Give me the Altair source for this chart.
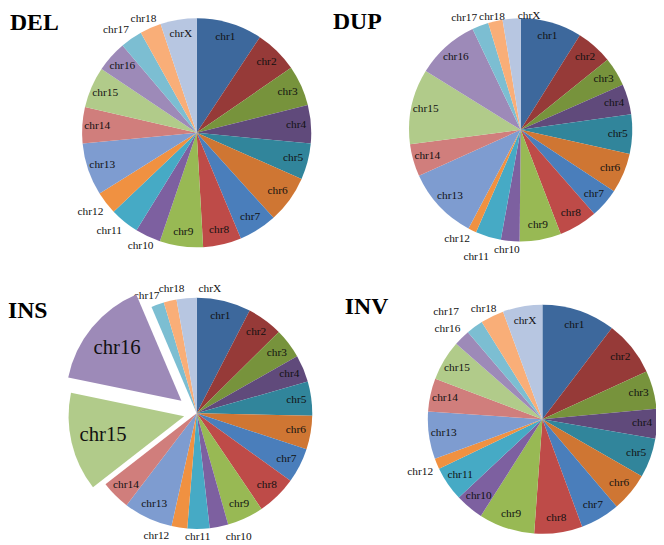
import math
import altair as alt
import pandas as pd

CHROMS = [f"chr{i}" for i in range(1, 19)] + ["chrX"]
COLORS = ["#3D689C", "#963A38", "#77933C", "#604A7B", "#31859B", "#CF7633",
          "#4A7EBB", "#BE4B48", "#98B954", "#7D60A0", "#46AAC5", "#F09141",
          "#7E9CD0", "#D07E7C", "#B1CB8A", "#9D8AB8", "#7CBED2", "#F9AE78", "#B7C6E1"]

# slice shares (percent of each pie)
DEL = [9.3, 6.1, 5.7, 5.4, 5.1, 6.7, 5.4, 5.4, 6.1, 3.6, 4.1, 3.2, 7.4, 5.1, 5.8, 4.4, 3.1, 3.0, 5.1]
DUP = [8.9, 5.3, 4.2, 4.4, 5.7, 5.8, 4.3, 5.6, 6.0, 2.7, 3.7, 1.2, 10.5, 4.7, 10.9, 9.1, 2.4, 2.1, 2.6]
INS = [7.6, 5.0, 4.2, 3.8, 4.8, 4.7, 4.9, 5.6, 5.1, 2.6, 3.1, 2.2, 6.9, 4.1, 13.8, 15.4, 1.8, 1.8, 2.8]
INV = [10.4, 7.8, 5.4, 4.2, 5.6, 5.5, 5.6, 6.8, 7.9, 4.0, 4.9, 1.5, 6.7, 4.7, 5.7, 2.3, 2.4, 3.3, 5.6]

TITLES = ["DEL", "DUP", "INS", "INV"]
SERIES = {"DEL": DEL, "DUP": DUP, "INS": INS, "INV": INV}

# labels drawn outside their slice, with small pixel nudges (dx, dy)
OUTSIDE = {
    "DEL": {"chr10": (-1, -4), "chr11": (-6, -2), "chr12": (-4, 0), "chr17": (-7, 4), "chr18": (-1, 5)},
    "DUP": {"chr10": (-2, -5), "chr11": (-8, 7), "chr12": (-9, -4), "chr17": (-11, 6), "chr18": (0, 10),
            "chrX": (19, 12)},
    "INS": {"chr10": (17, -4), "chr11": (-1, -7), "chr12": (-21, -6), "chr17": (-6, 6), "chr18": (5, 3),
            "chrX": (25, 6)},
    "INV": {"chr12": (-3, 2), "chr16": (-4, 2), "chr17": (-20, -3), "chr18": (-2, 6)},
}
EXPLODED = {"INS": {"chr15": 13, "chr16": 20}}

# layout (pixels within the 656x537 canvas)
LAYOUT = {
    "DEL": dict(cx=191, cy=123, r=116, tx=2, ty=19),
    "DUP": dict(cx=519, cy=120, r=113, tx=329, ty=18),
    "INS": dict(cx=191, cy=407, r=117, tx=0, ty=311),
    "INV": dict(cx=541, cy=413, r=116, tx=341, ty=306),
}

FONT = "Liberation Serif"
LABEL_COLOR = "#111111"
color_scale = alt.Scale(domain=CHROMS, range=COLORS)


def panel(name):
    vals = SERIES[name]
    L = LAYOUT[name]
    cx, cy, r = L["cx"], L["cy"], L["r"]
    expl = EXPLODED.get(name, {})
    outside = OUTSIDE[name]
    df = pd.DataFrame({"chr": CHROMS, "value": vals, "idx": list(range(len(CHROMS)))})
    df["expl"] = [1 if c in expl else 0 for c in CHROMS]
    df["lab_in"] = [c if (c not in outside and c not in expl) else "" for c in CHROMS]

    base = alt.Chart(df).encode(
        theta=alt.Theta("value:Q", stack="normalize"),
        order=alt.Order("idx:Q"),
    )
    layers = [
        base.mark_arc(outerRadius=r).encode(
            color=alt.Color("chr:N", scale=color_scale, legend=None),
            opacity=alt.condition("datum.expl == 0", alt.value(1), alt.value(0)),
            x=alt.value(cx), y=alt.value(cy),
        ),
        base.mark_text(radius=r * 0.87, font=FONT, fontSize=11.5, color=LABEL_COLOR).encode(
            text="lab_in:N", x=alt.value(cx), y=alt.value(cy)),
    ]
    for c, (dx, dy) in outside.items():
        layers.append(base.transform_calculate(
            lab=f"datum.chr == '{c}' ? datum.chr : ''").mark_text(
            radius=r * 1.13, font=FONT, fontSize=11.5, color=LABEL_COLOR, dx=dx, dy=dy).encode(
            text="lab:N", x=alt.value(cx), y=alt.value(cy)))

    total = sum(vals)
    cum = 0.0
    mids = {}
    for c, v in zip(CHROMS, vals):
        mids[c] = 2 * math.pi * (cum + v / 2) / total
        cum += v
    for c, d in expl.items():
        ex = cx + d * math.sin(mids[c])
        ey = cy - d * math.cos(mids[c])
        layers.append(base.mark_arc(outerRadius=r).encode(
            color=alt.Color("chr:N", scale=color_scale, legend=None),
            opacity=alt.condition(f"datum.chr == '{c}'", alt.value(1), alt.value(0)),
            x=alt.value(ex), y=alt.value(ey)))
        layers.append(base.transform_calculate(
            big=f"datum.chr == '{c}' ? datum.chr : ''").mark_text(
            radius=r * 0.72, font=FONT, fontSize=21, color=LABEL_COLOR).encode(
            text="big:N", x=alt.value(ex), y=alt.value(ey)))
    title = alt.Chart(pd.DataFrame({"t": [name]})).mark_text(
        font=FONT, fontSize=24, fontWeight="bold", align="left", baseline="alphabetic",
        color="#000").encode(text="t:N", x=alt.value(L["tx"]), y=alt.value(L["ty"]))
    layers.append(title)
    return layers


all_layers = []
for n in TITLES:
    all_layers += panel(n)

chart = alt.layer(*all_layers).properties(
    width=656, height=537, padding=0,
    autosize=alt.AutoSizeParams(type="none"),
    background="white",
).configure_view(stroke=None)

chart.save("out.html", embed_options={"renderer": "svg", "actions": False})
